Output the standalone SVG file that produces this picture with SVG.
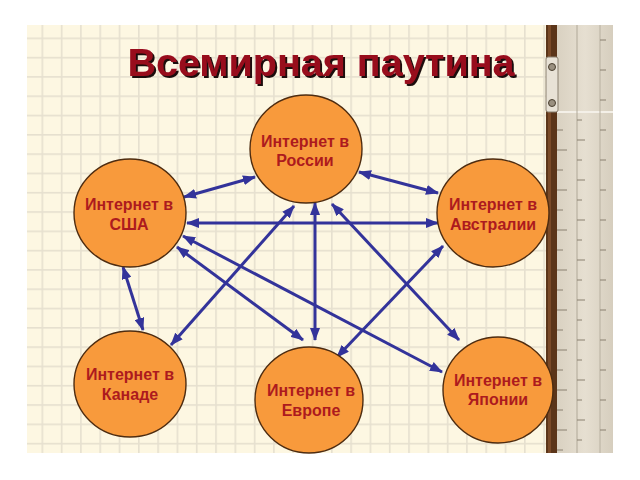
<svg xmlns="http://www.w3.org/2000/svg" width="640" height="480" viewBox="0 0 640 480">
<defs>
<pattern id="grid" patternUnits="userSpaceOnUse" x="41.5" y="37.5" width="19.3" height="19.3">
<rect x="0" y="0" width="19.3" height="19.3" fill="#fdf7e2"/>
<rect x="0" y="0" width="1.6" height="19.3" fill="#e6e0cf"/>
<rect x="0" y="0" width="19.3" height="1.6" fill="#e6e0cf"/>
</pattern>
<marker id="ah" markerUnits="userSpaceOnUse" markerWidth="13" markerHeight="10" refX="12" refY="5" orient="auto-start-reverse" viewBox="0 0 13 10">
<path d="M0,0 L13,5 L0,10 z" fill="#33339a"/>
</marker>
<linearGradient id="rul" x1="0" y1="0" x2="1" y2="0">
<stop offset="0" stop-color="#d9d1c1"/>
<stop offset="0.5" stop-color="#e6dfd1"/>
<stop offset="1" stop-color="#d6cebe"/>
</linearGradient>
<filter id="shadow" x="-5%" y="-20%" width="110%" height="140%">
<feDropShadow dx="2" dy="2" stdDeviation="0.4" flood-color="#1a0a0a" flood-opacity="1"/>
</filter>
</defs>
<style>
.node circle, .node ellipse { fill:#f89a3c; stroke:#4e2c10; stroke-width:1.4; }
.node text { font-family:"Liberation Sans", Arial, sans-serif; font-weight:bold; font-size:16px; fill:#ad1a1e; text-anchor:middle; }
.conn line { stroke:#33339a; stroke-width:3; marker-start:url(#ah); marker-end:url(#ah); }
.tick { stroke:#8a8070; stroke-width:1; }
</style>
<rect width="640" height="480" fill="#ffffff"/>
<rect x="27" y="25" width="520" height="428" fill="url(#grid)"/>
<!-- ruler -->
<g id="ruler">
<rect x="546" y="25" width="11" height="428" fill="#5b3519"/>
<rect x="548" y="25" width="3" height="428" fill="#7a4a28"/>
<rect x="557" y="25" width="56" height="428" fill="url(#rul)"/>
<line x1="557" y1="112" x2="613" y2="112" stroke="#f4f0e8" stroke-width="2"/>
<line x1="577" y1="25" x2="577" y2="453" stroke="#b0a898" stroke-width="1"/>
<line x1="600" y1="25" x2="600" y2="453" stroke="#b8b0a0" stroke-width="1"/>
<rect x="546" y="57" width="12" height="55" rx="2" fill="#e8e2d6" stroke="#8a8070" stroke-width="1"/>
<circle cx="552" cy="67" r="3.5" fill="#9a9080" stroke="#4a4030"/>
<circle cx="552" cy="103" r="3.5" fill="#9a9080" stroke="#4a4030"/>
<path class="tick" d="M557,130h6M557,150h10M557,170h6M557,190h10M557,210h6M557,230h10M557,250h6M557,270h10M557,290h6M557,310h10M557,330h6M557,350h10M557,370h6M557,390h10M557,410h6M557,430h10M557,450h6"/>
<path class="tick" d="M577,120h5M577,140h8M577,160h5M577,180h8M577,200h5M577,220h8M577,240h5M577,260h8M577,280h5M577,300h8M577,320h5M577,340h8M577,360h5M577,380h8M577,400h5M577,420h8M577,440h5"/>
<path class="tick" d="M600,130h6M600,160h6M600,190h6M600,220h6M600,250h6M600,280h6M600,310h6M600,340h6M600,370h6M600,400h6M600,430h6M600,40h6M600,70h6M600,100h6"/>
</g>
<!-- title -->
<text id="title" x="321" y="76" font-family="'Liberation Sans', Arial, sans-serif" font-weight="bold" font-size="39.5" text-anchor="middle" fill="#98091e" filter="url(#shadow)">Всемирная паутина</text>
<!-- connectors -->
<g id="connectors" class="conn">
<line x1="255" y1="177" x2="184" y2="197"/>
<line x1="359" y1="172" x2="438" y2="193"/>
<line x1="187" y1="223" x2="438" y2="223"/>
<line x1="123" y1="267" x2="143" y2="330"/>
<line x1="171" y1="345" x2="294" y2="206"/>
<line x1="315" y1="203" x2="315" y2="340"/>
<line x1="332" y1="204" x2="459" y2="340"/>
<line x1="177" y1="247" x2="303" y2="340"/>
<line x1="183" y1="236" x2="442" y2="372"/>
<line x1="443" y1="246" x2="337" y2="357"/>
</g>
<!-- nodes -->
<g id="russia" class="node">
<ellipse cx="306" cy="149" rx="56" ry="54"/>
<text x="305" y="146.5">Интернет в</text>
<text x="305" y="166">России</text>
</g>
<g id="usa" class="node">
<ellipse cx="130" cy="213" rx="56" ry="54"/>
<text x="129" y="210">Интернет в</text>
<text x="129" y="230">США</text>
</g>
<g id="australia" class="node">
<ellipse cx="493" cy="213" rx="56" ry="54"/>
<text x="493" y="210">Интернет в</text>
<text x="493" y="230">Австралии</text>
</g>
<g id="canada" class="node">
<ellipse cx="130" cy="384" rx="56" ry="53"/>
<text x="130" y="380">Интернет в</text>
<text x="130" y="400">Канаде</text>
</g>
<g id="europe" class="node">
<ellipse cx="309" cy="400" rx="54" ry="53"/>
<text x="311" y="396">Интернет в</text>
<text x="311" y="416">Европе</text>
</g>
<g id="japan" class="node">
<ellipse cx="498" cy="390" rx="55" ry="53"/>
<text x="498" y="386">Интернет в</text>
<text x="498" y="405">Японии</text>
</g>
</svg>
